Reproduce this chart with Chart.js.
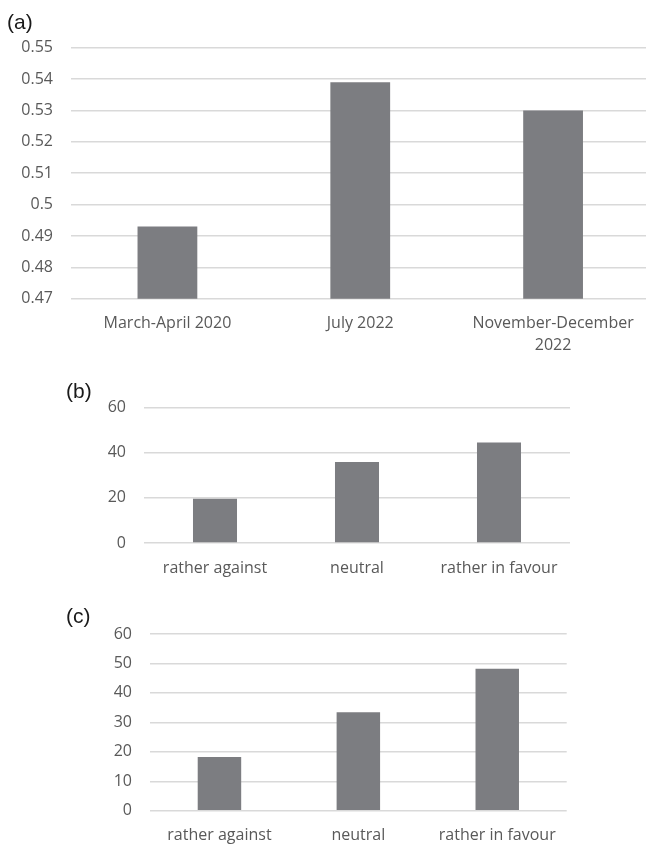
<!DOCTYPE html>
<html>
<head>
<meta charset="utf-8">
<script src="https://cdn.jsdelivr.net/npm/chart.js@4.4.1/dist/chart.umd.min.js"></script>
<style>
  html, body { margin: 0; padding: 0; background: #ffffff; }
  body { width: 646px; height: 846px; position: relative; overflow: hidden; }
  .panel { position: absolute; left: 0; }
  .panel canvas { display: block; }
  .tag {
    position: absolute;
    font-family: "Liberation Sans", Arial, sans-serif;
    font-size: 21px;
    line-height: 21px;
    color: #1a1a1a;
    z-index: 2;
  }
</style>
</head>
<body>
<div class="tag" style="left:7px; top:11px;">(a)</div>
<div class="tag" style="left:66px; top:380px;">(b)</div>
<div class="tag" style="left:66px; top:605px;">(c)</div>

<div class="panel" style="top:0px;"><canvas id="chartA" width="650" height="360"></canvas></div>
<div class="panel" style="top:380px;"><canvas id="chartB" width="646" height="200"></canvas></div>
<div class="panel" style="top:590px;"><canvas id="chartC" width="646" height="256"></canvas></div>

<script>
// Survey waves and mean score per wave (panel a)
const periods = ['March-April 2020', 'July 2022', ['November-December', '2022']];
const meanScore = [0.493, 0.539, 0.530];
const yTicksA = [0.47, 0.48, 0.49, 0.5, 0.51, 0.52, 0.53, 0.54, 0.55];

// Attitude shares in percent (panels b and c)
const attitudes = ['rather against', 'neutral', 'rather in favour'];
const sharesB = [19.6, 35.9, 44.5];
const sharesC = [18.2, 33.4, 48.2];
const yTicksB = [0, 20, 40, 60];
const yTicksC = [0, 10, 20, 30, 40, 50, 60];

const BAR = '#7c7d81';
const GRID = '#d9d9d9';
const TEXT = '#595959';
const FONT = '"Open Sans", "Noto Sans", sans-serif';

Chart.defaults.animation = false;
Chart.defaults.font.family = FONT;
Chart.defaults.color = TEXT;

function barChart(id, labels, values, ticks, box) {
  return new Chart(document.getElementById(id), {
    type: 'bar',
    data: {
      labels: labels,
      datasets: [{
        data: values,
        backgroundColor: BAR,
        borderWidth: 0,
        categoryPercentage: 1,
        barPercentage: box.bar
      }]
    },
    options: {
      responsive: false,
      devicePixelRatio: 1,
      animation: false,
      layout: { padding: { left: 0, right: box.right, top: box.top, bottom: 0 } },
      plugins: { legend: { display: false }, tooltip: { enabled: false }, title: { display: false } },
      scales: {
        x: {
          grid: { display: false },
          border: { display: false },
          ticks: {
            color: TEXT,
            padding: 6,
            maxRotation: 0,
            autoSkip: false,
            font: { size: 16, lineHeight: 1.375 }
          },
          afterFit: s => { s.height = box.xh; }
        },
        y: {
          min: ticks[0],
          max: ticks[ticks.length - 1],
          grid: { color: GRID, lineWidth: 1.5, drawTicks: false },
          border: { display: false },
          afterBuildTicks: s => { s.ticks = ticks.map(v => ({ value: v })); },
          ticks: {
            color: TEXT,
            padding: 18,
            font: { size: 16 },
            callback: v => String(+Number(v).toFixed(2))
          },
          afterFit: s => { s.width = box.yw; }
        }
      }
    }
  });
}

barChart('chartA', periods, meanScore, yTicksA,
  { yw: 71, right: 0.5, top: 47.7, xh: 61.3, bar: 0.31 });
barChart('chartB', attitudes, sharesB, yTicksB,
  { yw: 144, right: 76, top: 24, xh: 37, bar: 0.31 });
barChart('chartC', attitudes, sharesC, yTicksC,
  { yw: 150, right: 79.3, top: 44, xh: 35.3, bar: 0.313 });
</script>
</body>
</html>
